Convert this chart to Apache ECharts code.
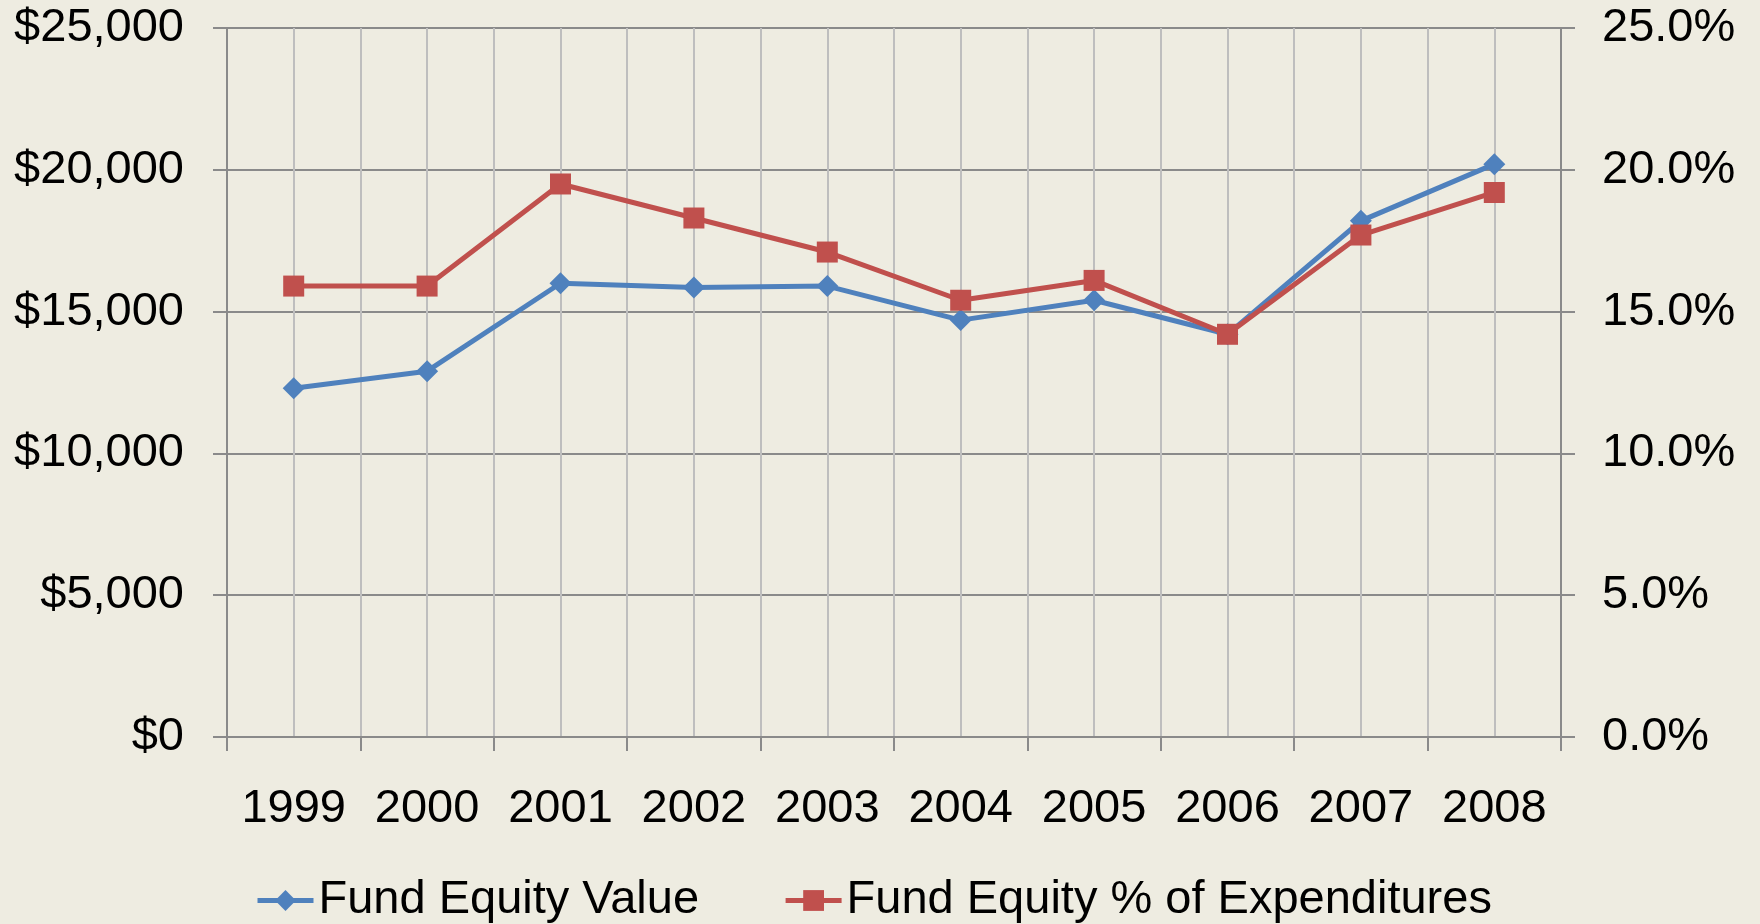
<!DOCTYPE html>
<html>
<head>
<meta charset="utf-8">
<title>Fund Equity</title>
<script src="https://cdn.jsdelivr.net/npm/echarts@6/dist/echarts.min.js"></script>
<style>
  html, body { margin: 0; padding: 0; background: #eeece1; }
  #chart { width: 1760px; height: 924px; }
</style>
</head>
<body>
<div id="chart"></div>
<script>
// values
const years = ["1999", "2000", "2001", "2002", "2003", "2004", "2005", "2006", "2007", "2008"];
const fundEquityValue = [12300, 12900, 16000, 15850, 15900, 14700, 15400, 14200, 18200, 20200];
const fundEquityPct = [15.9, 15.9, 19.5, 18.3, 17.1, 15.4, 16.1, 14.2, 17.7, 19.2];

const FONT = "'Liberation Sans', Arial, sans-serif";
const AXIS_GREY = "#8a8a8a";
const GRID_GREY = "#bebebe";
const BLUE = "#4f81bd";
const RED = "#c0504d";

const chart = echarts.init(document.getElementById("chart"));

const labelStyle = { color: "#000", fontFamily: FONT, fontSize: 47 };

chart.setOption({
  backgroundColor: "#eeece1",
  animation: false,
  grid: { left: 227, right: 199, top: 28, bottom: 187 },
  legend: {
    left: 250,
    top: 872,
    itemWidth: 56,
    itemHeight: 26,
    itemGap: 84,
    lineStyle: { width: 5 },
    textStyle: { color: "#000", fontFamily: FONT, fontSize: 47 },
    data: ["Fund Equity Value", "Fund Equity % of Expenditures"]
  },
  xAxis: [
    {
      type: "category",
      data: years,
      boundaryGap: true,
      axisLine: { lineStyle: { color: AXIS_GREY, width: 2 } },
      axisTick: { show: true, interval: 0, length: 14, alignWithLabel: false, lineStyle: { color: AXIS_GREY, width: 2 } },
      axisLabel: Object.assign({ margin: 49, interval: 0, hideOverlap: false }, labelStyle),
      splitLine: { show: false }
    },
    {
      // half-category vertical gridlines like the original
      type: "value",
      min: 0,
      max: 20,
      interval: 1,
      show: true,
      axisLine: { show: false },
      axisTick: { show: false },
      axisLabel: { show: false },
      splitLine: { show: true, lineStyle: { color: GRID_GREY, width: 2 } }
    }
  ],
  yAxis: [
    {
      type: "value",
      min: 0,
      max: 25000,
      interval: 5000,
      axisLine: { show: true, lineStyle: { color: AXIS_GREY, width: 2 } },
      axisTick: { show: true, length: 14, lineStyle: { color: AXIS_GREY, width: 2 } },
      axisLabel: Object.assign({
        margin: 43,
        formatter: (v) => "$" + v.toLocaleString("en-US")
      }, labelStyle),
      splitLine: { show: true, lineStyle: { color: AXIS_GREY, width: 2 } }
    },
    {
      type: "value",
      min: 0,
      max: 25,
      interval: 5,
      position: "right",
      axisLine: { show: true, lineStyle: { color: AXIS_GREY, width: 2 } },
      axisTick: { show: true, length: 14, lineStyle: { color: AXIS_GREY, width: 2 } },
      axisLabel: Object.assign({
        margin: 41,
        formatter: (v) => v.toFixed(1) + "%"
      }, labelStyle),
      splitLine: { show: false }
    }
  ],
  series: [
    {
      name: "Fund Equity Value",
      type: "line",
      xAxisIndex: 0,
      yAxisIndex: 0,
      data: fundEquityValue,
      symbol: "diamond",
      symbolSize: 22,
      lineStyle: { color: BLUE, width: 5 },
      itemStyle: { color: BLUE },
      z: 3
    },
    {
      name: "Fund Equity % of Expenditures",
      type: "line",
      xAxisIndex: 0,
      yAxisIndex: 1,
      data: fundEquityPct,
      symbol: "rect",
      symbolSize: 21,
      lineStyle: { color: RED, width: 5 },
      itemStyle: { color: RED },
      z: 4
    }
  ]
});
</script>
</body>
</html>
